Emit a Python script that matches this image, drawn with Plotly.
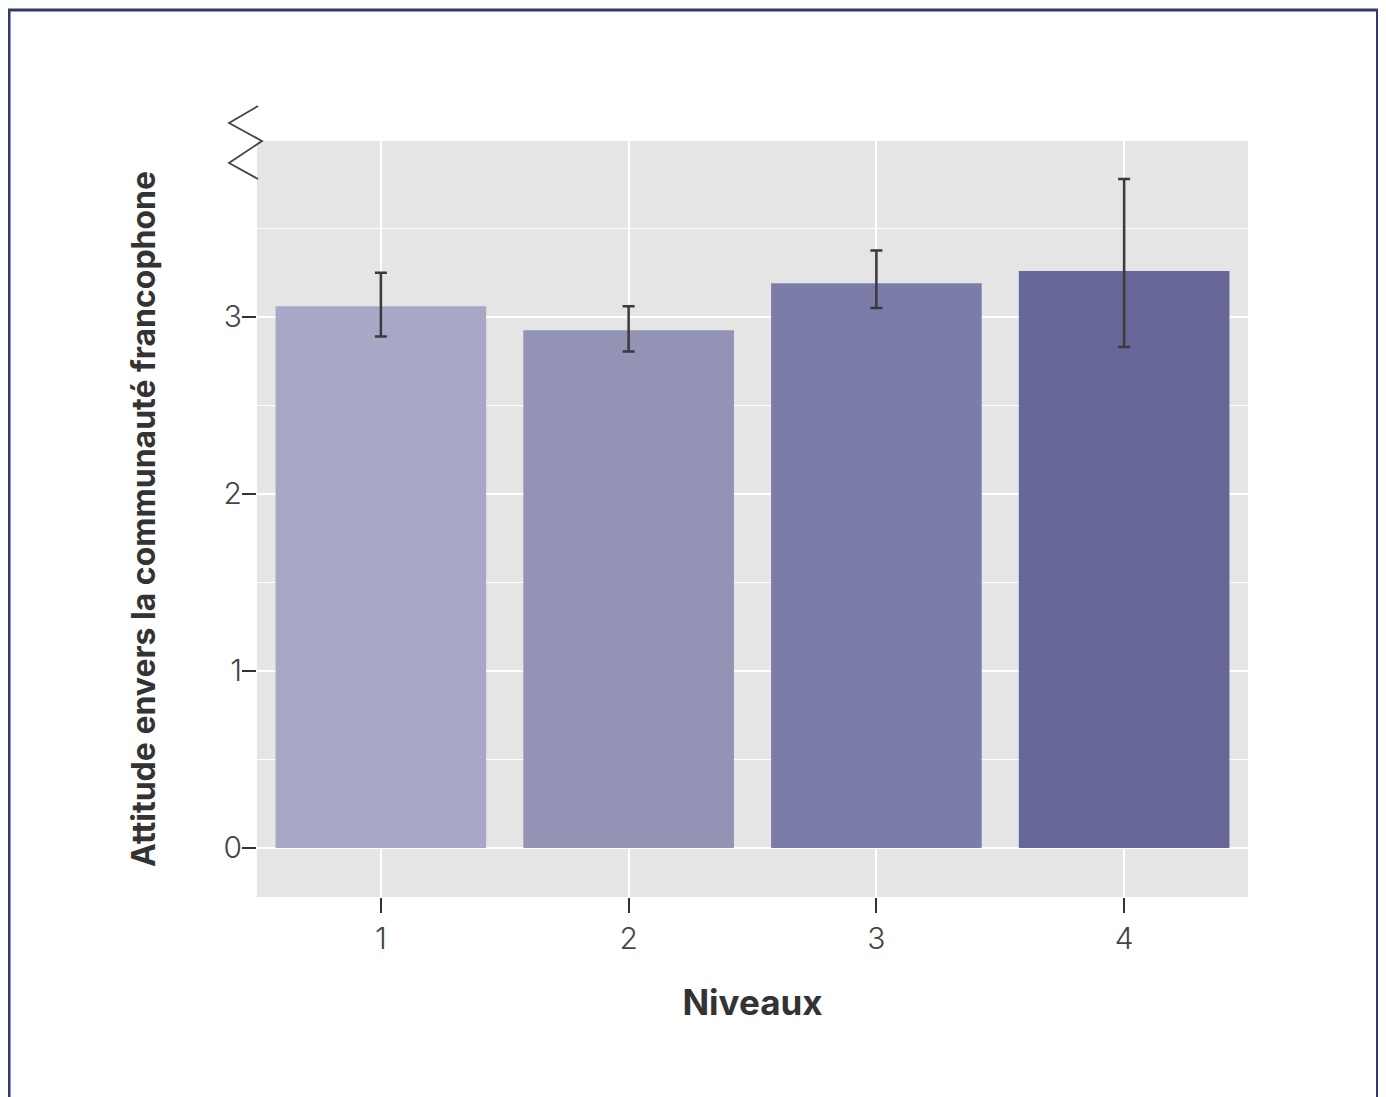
import plotly.graph_objects as go

niveaux = ["1", "2", "3", "4"]
moyennes = [3.06, 2.925, 3.19, 3.26]
ci_haut = [3.25, 3.06, 3.375, 3.78]
ci_bas = [2.89, 2.805, 3.05, 2.83]
couleurs = ["#a8a7c6", "#9393b6", "#7c7ca8", "#676699"]

err_plus = [h - m for h, m in zip(ci_haut, moyennes)]
err_moins = [m - b for m, b in zip(moyennes, ci_bas)]

OFF = 8  # page body margin
W, H = 1370, 1089
L, R, T, B = 257 - OFF, 1248 - OFF, 141 - OFF, 897 - OFF

fig = go.Figure()
fig.add_trace(go.Bar(
    x=[1, 2, 3, 4], y=moyennes,
    marker=dict(color=couleurs, line=dict(width=0)),
    width=0.85,
    error_y=dict(type="data", symmetric=False, array=err_plus, arrayminus=err_moins,
                 color="#3a3a3a", thickness=2.5, width=6),
    showlegend=False,
))

def px(x):
    return (x - OFF - L) / (R - L)

def py(y):
    return (B - (y - OFF)) / (B - T)

# frame
fig.add_shape(type="path", xref="paper", yref="paper",
              path=f"M {px(9)} {py(1130)} L {px(9)} {py(10)} L {px(1377.5)} {py(10)} L {px(1377.5)} {py(1130)}",
              line=dict(color="#2e3a70", width=3))
# axis break zigzag
pts = [(258, 106), (229, 123), (262, 141), (229, 163), (258, 179)]
path = "M " + " L ".join(f"{px(a)} {py(b)}" for a, b in pts)
fig.add_shape(type="path", xref="paper", yref="paper", path=path,
              line=dict(color="#444444", width=1.8))

fig.update_layout(
    width=W, height=H,
    margin=dict(l=L, r=W - R, t=T, b=H - B, autoexpand=False),
    paper_bgcolor="white", plot_bgcolor="#e5e5e5",
    font=dict(family="Inter, Lato, sans-serif", color="#3a3a3a"),
    bargap=0.15,
)
fig.update_xaxes(
    range=[0.5, 4.5], tickvals=[1, 2, 3, 4], ticktext=niveaux,
    showgrid=True, gridcolor="white", gridwidth=1.5, zeroline=False,
    ticks="outside", ticklen=15, tickwidth=1.5, tickcolor="#333333",
    tickfont=dict(size=30, color="#444444", weight=300),
    title=dict(text="Niveaux", font=dict(size=35, color="#333333", weight=700), standoff=35),
)
fig.update_yaxes(
    range=[-0.277, 3.994], tickvals=[0, 1, 2, 3],
    showgrid=True, gridcolor="white", gridwidth=1.5, zeroline=False,
    minor=dict(tickvals=[0.5, 1.5, 2.5, 3.5], showgrid=True, gridcolor="white", gridwidth=1.2),
    ticks="outside", ticklen=14, tickwidth=1.5, tickcolor="#333333",
    tickfont=dict(size=30, color="#444444", weight=300),
    ticklabelstandoff=-6,
    title=dict(text="Attitude envers la communauté francophone",
               font=dict(size=32, color="#333333", weight=700), standoff=58),
)

fig.write_html("out.html")
